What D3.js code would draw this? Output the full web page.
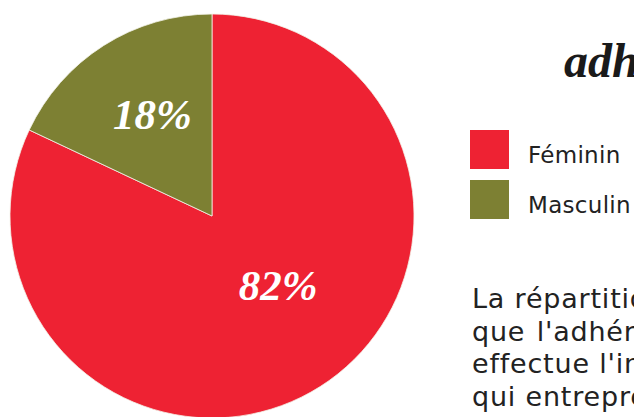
<!DOCTYPE html>
<html><head><meta charset="utf-8">
<script src="https://cdn.jsdelivr.net/npm/d3@7"></script>
<style>html,body{margin:0;padding:0;background:#fff;overflow:hidden}</style>
</head><body>
<script>
const categories = ["Féminin", "Masculin"];
const values = [82, 18];
const labels = ["82%", "18%"];
const colors = ["#EE2233", "#7D8033"];
const titleText = "adhérents";
const paragraph = [
  "La répartition par sexe montre",
  "que l'adhérent type est une femme",
  "effectue l'inscription pour son enfant,",
  "qui entreprend une activité sportive"
];
const wordSpacing = [0, 2, 0, 0];

const W = 634, H = 417;
const svg = d3.select("body").append("svg").attr("width", W).attr("height", H);

const cx = 212, cy = 216, R = 202;
const pie = d3.pie().sort(null).value(d => d)(values);
const arc = d3.arc().innerRadius(0).outerRadius(R);
const g = svg.append("g").attr("transform", `translate(${cx},${cy})`);
g.selectAll("path").data(pie).enter().append("path")
  .attr("d", arc).attr("fill", (d, i) => colors[i])
  .attr("stroke", "#f2f2e8").attr("stroke-width", 0.8);

const labelR = [0.5, 0.57];
const labelShift = [[12, -16], [2, -5]];
g.selectAll("text.lab").data(pie).enter().append("text")
  .attr("class", "lab")
  .attr("transform", (d, i) => {
    const a = d3.arc().innerRadius(R * labelR[i] * 2).outerRadius(0).centroid(d);
    return `translate(${a[0] + labelShift[i][0]},${a[1] + labelShift[i][1]})`;
  })
  .attr("text-anchor", "middle").attr("dy", "0.35em")
  .attr("fill", "#fff")
  .attr("font-family", "Liberation Serif").attr("font-style", "italic").attr("font-weight", "bold")
  .attr("font-size", 43)
  .text((d, i) => labels[i]);

svg.append("text").attr("x", 564).attr("y", 77)
  .attr("font-family", "Liberation Serif").attr("font-style", "italic").attr("font-weight", "bold")
  .attr("font-size", 48).attr("fill", "#1a1a1a").text(titleText);

const leg = svg.append("g");
categories.forEach((c, i) => {
  leg.append("rect").attr("x", 470).attr("y", 130 + i * 50).attr("width", 39).attr("height", 39).attr("fill", colors[i]);
  leg.append("text").attr("x", 528).attr("y", 163 + i * 50)
    .attr("font-family", "DejaVu Sans").attr("font-size", 23).attr("letter-spacing", 0.3)
    .attr("fill", "#222").text(c);
});

paragraph.forEach((line, i) => {
  svg.append("text").attr("x", 472).attr("y", 308 + i * 32.5)
    .attr("font-family", "DejaVu Sans").attr("font-size", 27).attr("letter-spacing", 0.8)
    .attr("fill", "#222")
    .attr("word-spacing", wordSpacing[i]).text(line);
});
</script>
</body></html>
